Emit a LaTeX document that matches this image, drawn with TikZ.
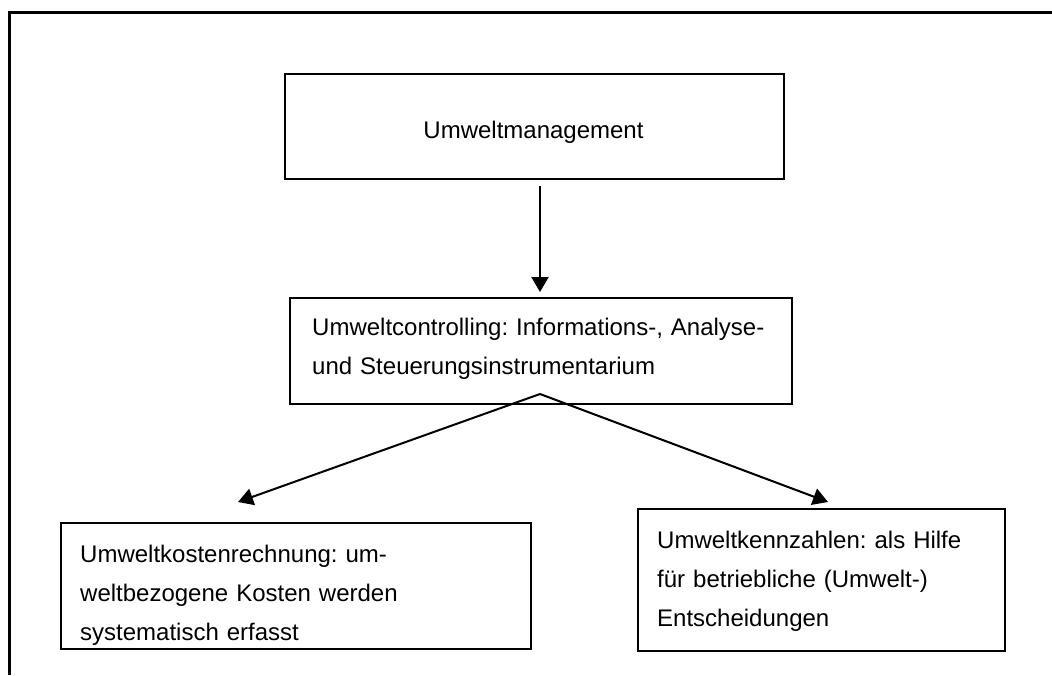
\documentclass[tikz,border=0pt]{standalone}
\usepackage{fontspec}
\setmainfont{Liberation Sans}
\usetikzlibrary{arrows.meta}
\begin{document}
\frenchspacing
\begin{tikzpicture}[x=1pt,y=-1pt,
  box/.style={draw, line width=2.2pt, rectangle, inner sep=0pt, anchor=north west},
  txt/.style={inner sep=0pt, anchor=base west, align=left, text width=#1,
    font=\fontsize{24}{39.3}\selectfont},
  conn/.style={line width=2pt, -{Triangle[length=15pt,width=17pt]}},
  frameline/.style={line width=3.2pt}]
  \useasboundingbox (0,0) rectangle (1052,675);
  % page frame (top and left edges)
  \draw[frameline] (9.5,675) -- (9.5,12.5) -- (1052,12.5);

  % boxes
  \node[box, minimum width=499pt, minimum height=105pt] (mgmt) at (284,73) {};
  \node[box, minimum width=502pt, minimum height=106pt] (ctrl) at (289,297) {};
  \node[box, minimum width=470pt, minimum height=126pt] (cost) at (60,522) {};
  \node[box, minimum width=367pt, minimum height=142pt] (kpi)  at (637,508) {};

  % box texts
  \node[inner sep=0pt, anchor=base, font=\fontsize{24}{39.3}\selectfont]
    (mgmttxt) at (533.5,138) {Umweltmanagement};
  \node[txt=475pt] (ctrltxt) at (312,335)
    {Umweltcontrolling: Informations-, Analyse-\\und Steuerungsinstrumentarium};
  \node[txt=440pt] (costtxt) at (80,562)
    {Umweltkostenrechnung: um-\\weltbezogene Kosten werden\\systematisch erfasst};
  \node[txt=340pt] (kpitxt) at (657,548)
    {Umweltkennzahlen: als Hilfe\\für betriebliche (Umwelt-)\\Entscheidungen};

  % connectors
  \coordinate (fork) at (540,394);
  \coordinate (costtip) at (238,502);
  \coordinate (kpitip) at (828,502);
  \draw[conn, shorten <=6pt, shorten >=5pt] (mgmt.south -| fork) -- (ctrl.north -| fork);
  \draw[conn] (fork) -- (costtip);
  \draw[conn] (fork) -- (kpitip);
\end{tikzpicture}
\end{document}
